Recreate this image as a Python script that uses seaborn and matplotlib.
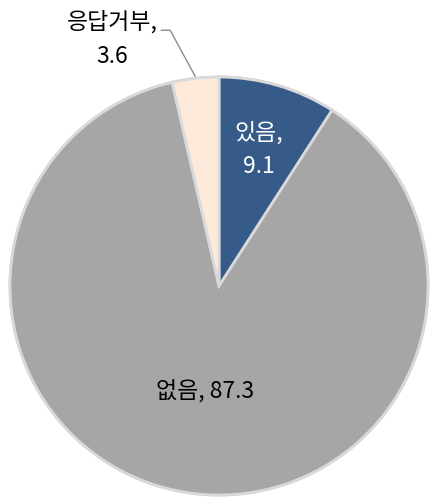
import numpy as np
import matplotlib
matplotlib.use("Agg")
import matplotlib.pyplot as plt
import seaborn as sns

# 응답 분포 (%)
labels = ["있음", "없음", "응답거부"]
values = [9.1, 87.3, 3.6]
colors = ["#375B89", "#A6A6A6", "#FDEADB"]
text_colors = ["white", "black", "black"]

sns.set_theme(style="white")
plt.rcParams['font.family'] = ['Noto Sans CJK KR', 'DejaVu Sans']

fig = plt.figure(figsize=(4.30, 5.03), dpi=100)
ax = fig.add_axes([0, 0, 1, 1])

cx, cy, R = 219, 217, 209
wedges, _ = ax.pie(values, colors=colors, startangle=90, counterclock=False,
                   center=(cx, cy), radius=R,
                   wedgeprops=dict(edgecolor="#D9D9D9", linewidth=2),
                   shadow=dict(ox=0.012, oy=-0.012, shade=0.5, alpha=0.3))
ax.set_xlim(0, 430)
ax.set_ylim(0, 503)
ax.set_aspect('equal')
ax.axis('off')

def polar(ang, r):
    a = np.deg2rad(ang)
    return cx + r * np.cos(a), cy + r * np.sin(a)

mid = [(w.theta1 + w.theta2) / 2 for w in wedges]
fs = 16.5

# 있음 (inside)
x, y = polar(mid[0], 0.68 * R)
ax.text(x, y, f"{labels[0]},\n{values[0]}", ha='center', va='center',
        color=text_colors[0], fontsize=fs, weight='medium', linespacing=1.55)

# 없음 (inside)
x, y = polar(mid[1] + 2.5, 0.51 * R)
ax.text(x, y, f"{labels[1]}, {values[1]}", ha='center', va='center',
        color=text_colors[1], fontsize=fs, weight='medium')

# 응답거부 (outside with leader line)
p0 = polar(mid[2], 1.01 * R)
p1 = (p0[0] - 25, p0[1] + 46)
p2 = (p1[0] - 9, p1[1])
ax.plot([p0[0], p1[0], p2[0]], [p0[1], p1[1], p2[1]], color="#8C8C8C", lw=1)
ax.text(p2[0] - 49, p2[1] - 9, f"{labels[2]},\n{values[2]}", ha='center', va='center',
        color=text_colors[2], fontsize=fs, weight='medium', linespacing=1.6)

plt.savefig("out.png", dpi=100)
